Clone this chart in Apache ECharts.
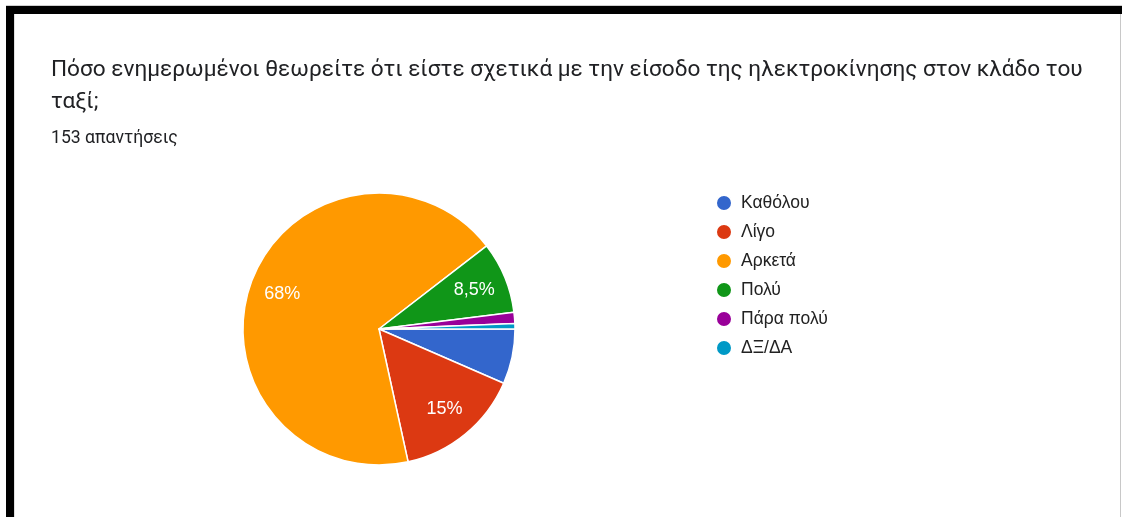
<!DOCTYPE html>
<html>
<head>
<meta charset="utf-8">
<script src="https://cdn.jsdelivr.net/npm/echarts@6/dist/echarts.min.js"></script>
<style>
  html, body { margin: 0; padding: 0; background: #fff; }
  #chart { width: 1122px; height: 517px; }
</style>
</head>
<body>
<div id="chart"></div>
<script>
// Survey question, response count and answer breakdown
const questionLines = [
  'Πόσο ενημερωμένοι θεωρείτε ότι είστε σχετικά με την είσοδο της ηλεκτροκίνησης στον κλάδο του',
  'ταξί;'
];
const responsesLabel = '153 απαντήσεις';
const answers = ['Καθόλου', 'Λίγο', 'Αρκετά', 'Πολύ', 'Πάρα πολύ', 'ΔΞ/ΔΑ'];
const counts = [10, 23, 104, 13, 2, 1];
const sliceColors = ['#3366cc', '#dc3912', '#ff9900', '#109618', '#990099', '#0099c6'];

const pieData = answers.map((name, i) => ({ name, value: counts[i] }));

// Slices smaller than this share carry no in-slice label
const labelMinPercent = 7;

function pctText(p) {
  return p >= 10 ? Math.round(p) + '%' : p.toFixed(1).replace('.', ',') + '%';
}

const center = [379, 329];
const outerR = 136;

const chart = echarts.init(document.getElementById('chart'), null, { renderer: 'canvas' });

chart.setOption({
  animation: false,
  color: sliceColors,
  title: [
    {
      text: questionLines.join('\n'),
      left: 46,
      top: 49,
      textStyle: {
        fontFamily: 'Roboto, sans-serif',
        fontSize: 22.6,
        fontWeight: 'normal',
        color: '#202124',
        lineHeight: 32
      }
    },
    {
      text: responsesLabel,
      left: 46,
      top: 125,
      textStyle: {
        fontFamily: 'Roboto, sans-serif',
        fontSize: 17.6,
        fontWeight: 'normal',
        color: '#202124'
      }
    }
  ],
  legend: {
    orient: 'vertical',
    left: 715,
    top: 194,
    padding: 0,
    icon: 'circle',
    itemWidth: 16,
    itemHeight: 16,
    itemGap: 11,
    selectedMode: false,
    data: answers,
    textStyle: {
      fontFamily: 'Arial, "Liberation Sans", sans-serif',
      fontSize: 17.5,
      color: '#222222',
      lineHeight: 16,
      height: 16,
      padding: [0, 0, 0, 4]
    }
  },
  graphic: [
    // frame around the card
    { type: 'rect', shape: { x: 6, y: 5, width: 1116, height: 1 }, style: { fill: '#cfcfcf' }, silent: true },
    { type: 'rect', shape: { x: 6, y: 6, width: 1116, height: 8 }, style: { fill: '#000' }, silent: true },
    { type: 'rect', shape: { x: 6, y: 6, width: 8, height: 511 }, style: { fill: '#000' }, silent: true },
    { type: 'rect', shape: { x: 14, y: 14, width: 1, height: 503 }, style: { fill: '#e0e0e0' }, silent: true },
    { type: 'rect', shape: { x: 1120, y: 14, width: 1, height: 503 }, style: { fill: '#c8c8c8' }, silent: true }
  ],
  series: [
    {
      type: 'pie',
      center: center,
      radius: [0, outerR],
      startAngle: 0,
      clockwise: true,
      data: pieData,
      label: { show: false },
      labelLine: { show: false },
      itemStyle: { borderColor: '#ffffff', borderWidth: 1.5 },
      emphasis: { disabled: true }
    },
    {
      // transparent ring that only carries the percentage labels
      type: 'pie',
      center: center,
      radius: [64, outerR],
      startAngle: 0,
      clockwise: true,
      silent: true,
      data: pieData,
      itemStyle: { color: 'rgba(0,0,0,0)', borderWidth: 0 },
      emphasis: { disabled: true },
      labelLine: { show: false },
      label: {
        show: true,
        position: 'inside',
        fontFamily: 'Arial, "Liberation Sans", sans-serif',
        fontSize: 18,
        color: '#ffffff',
        formatter: p => (p.percent >= labelMinPercent ? pctText(p.percent) : '')
      }
    }
  ]
});
</script>
</body>
</html>
